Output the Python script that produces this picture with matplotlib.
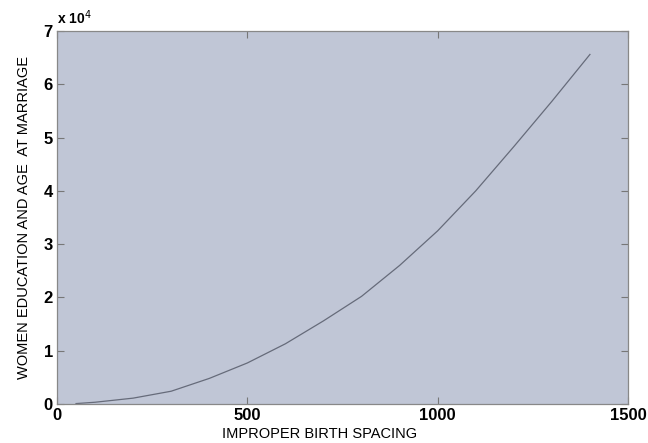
import matplotlib.pyplot as plt

# values
spacing = [50, 100, 200, 300, 400, 500, 600, 700, 800, 900, 1000, 1100, 1200, 1300, 1400]
edu_age = [80, 330, 1100, 2400, 4800, 7700, 11300, 15600, 20200, 26000, 32500, 40000, 48300, 56800, 65600]

plt.rcParams['font.family'] = ['Liberation Sans', 'DejaVu Sans']

fig = plt.figure(figsize=(6.48, 4.43), dpi=100)
ax = fig.add_axes([57/648, 1 - 404/443, 571/648, 373/443])
ax.set_facecolor('#c0c6d6')

ax.plot(spacing, edu_age, color='#666b7a', linewidth=0.9)

ax.set_xlim(0, 1500)
ax.set_ylim(0, 70000)
ax.set_xticks([0, 500, 1000, 1500])
ax.set_yticks(range(0, 70001, 10000))
ax.set_yticklabels([str(i) for i in range(8)])

ax.tick_params(direction='in', top=True, right=True, length=5, width=0.8,
               color='#777777', labelsize=12, pad=3)
for lab in ax.get_xticklabels() + ax.get_yticklabels():
    lab.set_fontweight('bold')
for sp in ax.spines.values():
    sp.set_color('#888888')
    sp.set_linewidth(0.9)

ax.text(0.0, 1.012, 'x 10$^{4}$', transform=ax.transAxes, fontsize=10,
        fontweight='bold', ha='left', va='bottom')

ax.set_xlabel('IMPROPER BIRTH SPACING', fontsize=10.5, labelpad=1)
ax.xaxis.set_label_coords(0.459, -0.062)
ax.set_ylabel('WOMEN EDUCATION AND AGE  AT MARRIAGE', fontsize=10.5, labelpad=9)

plt.savefig('out.png', dpi=100)
